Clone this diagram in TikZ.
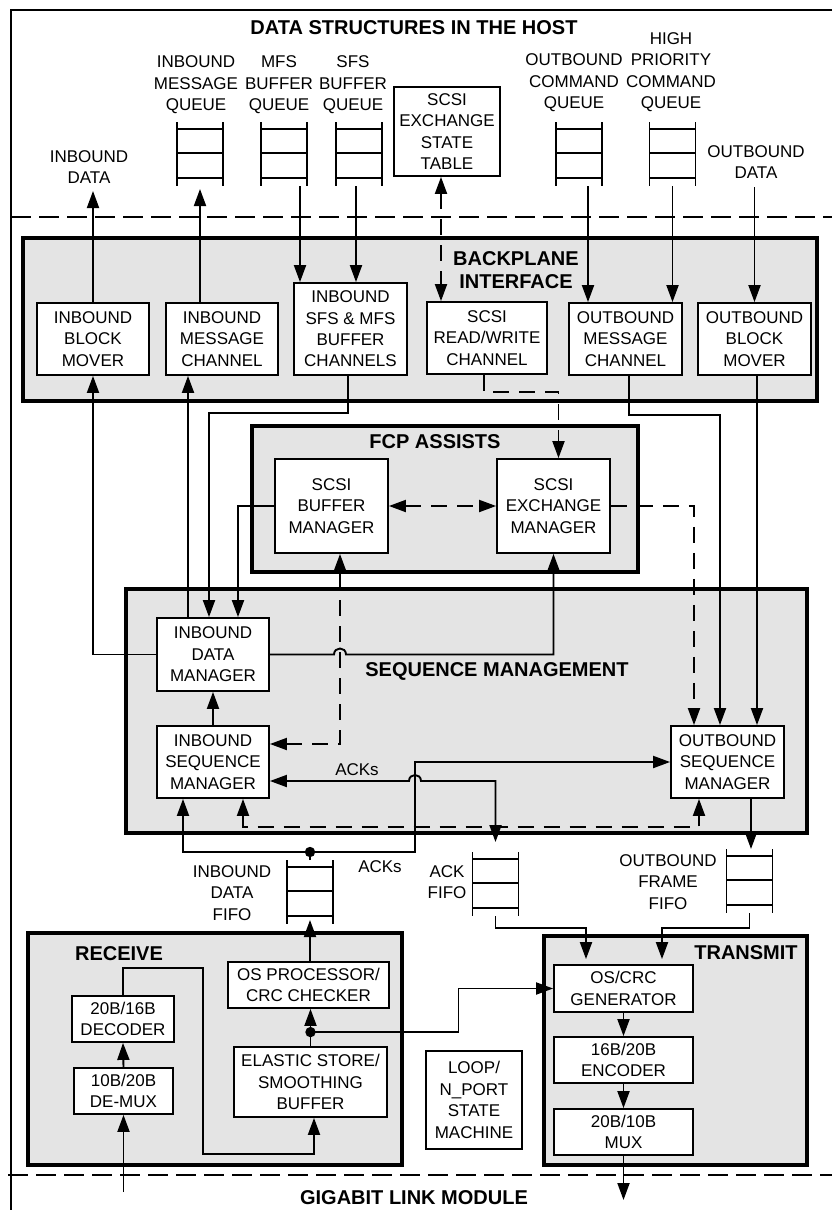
\documentclass[tikz,border=0pt]{standalone}
\usepackage{fontspec}
\setmainfont{Liberation Sans}
\usetikzlibrary{arrows.meta}
\definecolor{panel}{HTML}{E4E4E4}

\begin{document}
\begin{tikzpicture}[x=0.5pt,y=-0.5pt,
  every node/.style={font=\fontsize{8.5}{10.7}\selectfont},
  blk/.style={draw, fill=white, line width=0.9pt, align=center, inner sep=0pt},
  grp/.style={draw, fill=panel, line width=2pt},
  ttl/.style={font=\fontsize{10}{11.5}\selectfont\bfseries, align=center},
  lbl/.style={align=center},
  wire/.style={line width=0.95pt},
  arr/.style={wire, -{Triangle[length=8.5pt,width=6pt]}},
  arrs/.style={wire, {Triangle[length=8.5pt,width=6pt]}-{Triangle[length=8.5pt,width=6pt]}},
  dsh/.style={dash pattern=on 8pt off 5pt},
  fifo/.pic={
    \draw[wire] (-23,0) -- (-23,64) (23,0) -- (23,64)
      (-23,7) -- (23,7) (-23,31) -- (23,31) (-23,56) -- (23,56);
    \coordinate (-top) at (0,0);
    \coordinate (-bot) at (0,64);
  }]
\useasboundingbox (0,0) rectangle (832,1210);

% frame and module borders
\draw[line width=1pt] (832,10) -- (11,10) -- (11,1210);
\draw[line width=0.9pt, dash pattern=on 10pt off 4pt] (11,217) -- (832,217);
\draw[line width=0.9pt, dash pattern=on 10pt off 4pt] (8,1175) -- (832,1175);

% functional groups
\draw[grp] (23,238) rectangle (817,401);
\draw[grp] (252,426) rectangle (638,572);
\draw[grp] (126,589) rectangle (807,833);
\draw[grp] (28,933) rectangle (402,1165);
\draw[grp] (544,936) rectangle (807,1165);

\node[ttl] (host) at (414,28) {DATA STRUCTURES IN THE HOST};
\node[ttl] (link) at (414,1198) {GIGABIT LINK MODULE};
\node[ttl] (bpi) at (516,270) {BACKPLANE\\INTERFACE};
\node[ttl] (fcp) at (435,442) {FCP ASSISTS};
\node[ttl] (seq) at (497,671) {SEQUENCE MANAGEMENT};
\node[ttl] (rx) at (119,954) {RECEIVE};
\node[ttl] (tx) at (746,953) {TRANSMIT};

% queues and fifos
\pic (qim) at (200,122) {fifo};
\pic (qmfs) at (284,122) {fifo};
\pic (qsfs) at (359,122) {fifo};
\pic (qoc) at (579,122) {fifo};
\pic (qhp) at (672.5,122) {fifo};
\pic (fin) at (310,860) {fifo};
\pic (fack) at (495.5,852) {fifo};
\pic (fout) at (749.5,849) {fifo};

\node[lbl] (qiml) at (196,85) {INBOUND\\MESSAGE\\QUEUE};
\node[lbl] (qmfsl) at (279,85) {MFS\\BUFFER\\QUEUE};
\node[lbl] (qsfsl) at (353,85) {SFS\\BUFFER\\QUEUE};
\node[lbl] (qocl) at (574,83) {OUTBOUND\\COMMAND\\QUEUE};
\node[lbl] (qhpl) at (671,72) {HIGH\\PRIORITY\\COMMAND\\QUEUE};
\node[lbl] (indl) at (89,167) {INBOUND\\DATA};
\node[lbl] (outdl) at (756,162) {OUTBOUND\\DATA};
\node[lbl] (finl) at (232,893) {INBOUND\\DATA\\FIFO};
\node[lbl] (fackl) at (447,882) {ACK\\FIFO};
\node[lbl] (foutl) at (668,882) {OUTBOUND\\FRAME\\FIFO};

% blocks
\node[blk, minimum width=53pt, minimum height=44.5pt] (sst) at (447,131.5) {SCSI\\EXCHANGE\\STATE\\TABLE};
\node[blk, minimum width=56pt, minimum height=36pt] (ibm) at (93,339) {INBOUND\\BLOCK\\MOVER};
\node[blk, minimum width=56pt, minimum height=36pt] (imc) at (222,339) {INBOUND\\MESSAGE\\CHANNEL};
\node[blk, minimum width=56.5pt, minimum height=46pt] (isfs) at (350.5,329) {INBOUND\\SFS \& MFS\\BUFFER\\CHANNELS};
\node[blk, minimum width=60pt, minimum height=36pt] (srw) at (487,338) {SCSI\\READ/WRITE\\CHANNEL};
\node[blk, minimum width=56.5pt, minimum height=36pt] (omc) at (625.5,339) {OUTBOUND\\MESSAGE\\CHANNEL};
\node[blk, minimum width=56.5pt, minimum height=36pt] (obm) at (754.5,339) {OUTBOUND\\BLOCK\\MOVER};
\node[blk, minimum width=56.5pt, minimum height=47pt] (sbm) at (331.5,506) {SCSI\\BUFFER\\MANAGER};
\node[blk, minimum width=56.5pt, minimum height=47pt] (sem) at (553.5,506) {SCSI\\EXCHANGE\\MANAGER};
\node[blk, minimum width=56pt, minimum height=36.5pt] (idm) at (213,654.5) {INBOUND\\DATA\\MANAGER};
\node[blk, minimum width=56pt, minimum height=36pt] (ism) at (213,762) {INBOUND\\SEQUENCE\\MANAGER};
\node[blk, minimum width=56.5pt, minimum height=36pt] (osm) at (727.5,762) {OUTBOUND\\SEQUENCE\\MANAGER};
\node[blk, minimum width=80.5pt, minimum height=23pt] (osp) at (308.5,985) {OS PROCESSOR/\\CRC CHECKER};
\node[blk, minimum width=76.5pt, minimum height=35pt] (ela) at (310.5,1082) {ELASTIC STORE/\\SMOOTHING\\BUFFER};
\node[blk, minimum width=51pt, minimum height=23pt] (dec) at (123,1019) {20B/16B\\DECODER};
\node[blk, minimum width=49.5pt, minimum height=23pt] (dmx) at (123.5,1091) {10B/20B\\DE-MUX};
\node[blk, minimum width=48pt, minimum height=49pt] (loop) at (474,1100) {LOOP/\\N\_PORT\\STATE\\MACHINE};
\node[blk, minimum width=69.5pt, minimum height=23.5pt] (oscrc) at (623.5,988.5) {OS/CRC\\GENERATOR};
\node[blk, minimum width=69.5pt, minimum height=23pt] (enc) at (623.5,1060) {16B/20B\\ENCODER};
\node[blk, minimum width=69.5pt, minimum height=23pt] (mux) at (623.5,1132) {20B/10B\\MUX};

% host side
\coordinate (indata) at (93,191);
\coordinate (outdata) at (754.5,187);
\draw[arr] (ibm.north) -- (indata);
\draw[arr] (imc.north -| qim-bot) -- ([yshift=-1.5pt]qim-bot);
\draw[arr] ([xshift=8pt]qmfs-bot) -- ([xshift=8pt]qmfs-bot |- isfs.north);
\draw[arr] ([xshift=-1.5pt]qsfs-bot) -- ([xshift=-1.5pt]qsfs-bot |- isfs.north);
\draw[arrs, dsh] ([xshift=-3pt]sst.south) -- ([xshift=-3pt]sst.south |- srw.north);
\draw[arr] ([xshift=4.5pt]qoc-bot) -- ([xshift=4.5pt]qoc-bot |- omc.north);
\draw[arr] (qhp-bot) -- (qhp-bot |- omc.north);
\draw[arr] (outdata) -- (obm.north);

% backplane <-> fcp / sequence management
\draw[arr] (idm.west) -| (ibm.south);
\draw[arr] ([xshift=-12.5pt]idm.north) -- ([xshift=-12.5pt]idm.north |- imc.south);
\draw[arr] ([xshift=-1.25pt]isfs.south) -- ++(0,37) -| ([xshift=-2pt]idm.north);
\draw[arr] (sbm.west) -| ([xshift=12.5pt]idm.north);
\draw[arrs, dsh] (sbm.east) -- (sem.west);
\draw[arr, dsh] ([xshift=-1.5pt]srw.south) -- ++(0,17) -| ([xshift=2.5pt]sem.north);
\draw[arr, dsh] (sem.east) -| ([xshift=-16.75pt]osm.north);
\draw[arr] ([xshift=1.75pt]omc.south) -- ++(0,39) -| ([xshift=-3.75pt]osm.north);
\draw[arr] ([xshift=1.25pt]obm.south) -- ([xshift=1.25pt]obm.south |- osm.north);

\coordinate (sbmin) at ([xshift=4.25pt]sbm.south);
\draw[arrs, dsh] ([yshift=9pt]ism.east) -| (sbmin);
\draw[arr] (idm.east) -- ([xshift=-3pt]sbmin |- idm.east)
  .. controls +(0,-8) and +(0,-8) .. ([xshift=3pt]sbmin |- idm.east) -| (sem.south);
\draw[arr] (ism.north) -- (idm.south);

% inbound fifo split and ACKs
\coordinate (split) at ([yshift=4pt]fin-top);
\path (split) ++(105,0) coordinate (ackx);
\draw[wire] (fin-top) -- (split);
\draw[arr] (split) -| ([xshift=-15pt]ism.south);
\draw[arr] (split) -- (ackx) |- (osm.west);
\fill (split) circle (2.6pt);

\coordinate (ackl) at ([yshift=-9.5pt]ism.east);
\draw[arrs] (ackl) -- ([xshift=-3pt]ackx |- ackl)
  .. controls +(0,-8) and +(0,-8) .. ([xshift=3pt]ackx |- ackl) -| ([yshift=5pt]fack-top);
\node (ack1) at (357,770) {ACKs};
\node (ack2) at (380,867) {ACKs};

\draw[arrs, dsh] ([xshift=15pt]ism.south) -- ++(0,28) -| ([xshift=-14.25pt]osm.south);
\draw[arr] ([xshift=11.75pt]osm.south) -- ([xshift=11.75pt]osm.south |- fout-top);

% transmit
\draw[arr] (fack-bot) -- ++(0,12) -| ([xshift=-18.75pt,yshift=2.5pt]oscrc.north);
\draw[arr] (fout-bot) -- ++(0,15) -| ([xshift=19.25pt,yshift=2.5pt]oscrc.north);
\draw[arr] (oscrc) -- (enc);
\draw[arr] (enc) -- (mux);
\coordinate (txout) at (623.5,1200);
\draw[arr] (mux.south) -- (txout);

% receive
\coordinate (rxin) at (123.5,1192);
\draw[arr] (rxin) -- (dmx.south);
\draw[arr] (dmx.north) -- (dec.south);
\draw[arr] (dec.north) -- ++(0,-27) -- ++(80,0) -- ++(0,186) -| ([xshift=1.75pt]ela.south);
\coordinate (tap) at ([yshift=7pt]ela.north);
\draw[arr] (ela.north) -- (ela.north |- osp.south);
\draw[arr] (tap) -- ++(148,0) |- (oscrc.west);
\fill (tap) circle (2.6pt);
\draw[arr] (fin-bot |- osp.north) -- ([yshift=2pt]fin-bot);
\end{tikzpicture}
\end{document}
